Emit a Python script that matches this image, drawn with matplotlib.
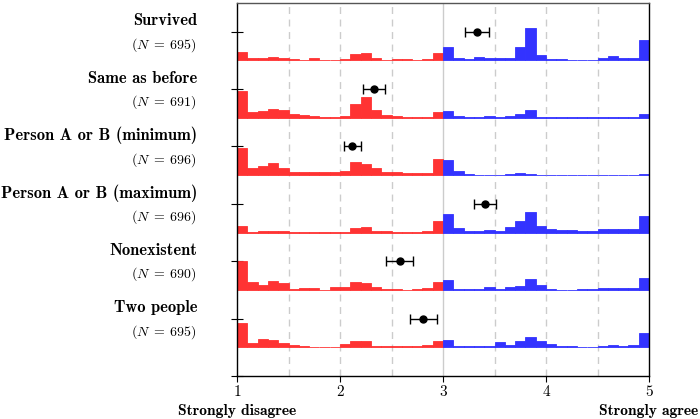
import numpy as np
import matplotlib
matplotlib.use("Agg")
import matplotlib.pyplot as plt
import matplotlib.transforms as mtransforms

plt.rcParams["mathtext.fontset"] = "cm"
plt.rcParams["font.family"] = "cmr10"
plt.rcParams["axes.formatter.use_mathtext"] = True

# Questions, top to bottom
labels = ["Survived", "Same as before", "Person A or B (minimum)",
          "Person A or B (maximum)", "Nonexistent", "Two people"]
n_resp = [695, 691, 696, 696, 690, 695]

# Mean rating and half-width of the interval
means = [3.33, 2.33, 2.12, 3.41, 2.58, 2.81]
errs = [0.115, 0.11, 0.085, 0.105, 0.13, 0.13]

# Histogram heights, 40 bins of width 0.1 from 1 to 5 (relative units)
hist_survived = [24, 8, 7, 10, 8, 4, 2, 6, 2, 1, 3, 19, 23, 6, 1, 4, 3, 1, 3, 23,
                 41, 7, 4, 9, 7, 8, 8, 40, 98, 16, 3, 5, 2, 1, 1, 8, 12, 6, 8, 60]
hist_same = [79, 17, 21, 26, 24, 10, 7, 5, 3, 2, 6, 42, 63, 23, 9, 4, 3, 2, 2, 16,
             21, 4, 2, 3, 4, 2, 4, 10, 23, 3, 2, 2, 2, 1, 2, 2, 3, 2, 2, 12]
hist_min = [82, 20, 26, 35, 22, 10, 8, 10, 10, 8, 13, 38, 32, 20, 9, 9, 5, 5, 6, 48,
            44, 12, 3, 2, 1, 2, 4, 5, 4, 1, 1, 1, 1, 0.5, 0.5, 1, 1, 1, 1, 3]
hist_max = [20, 3, 4, 4, 6, 3, 2, 2, 1, 2, 3, 14, 16, 5, 4, 3, 3, 3, 4, 34,
            55, 15, 5, 5, 8, 6, 17, 36, 61, 20, 12, 8, 7, 5, 6, 12, 12, 12, 10, 49]
hist_nonexistent = [87, 25, 16, 26, 20, 4, 5, 7, 1, 9, 9, 23, 20, 9, 4, 2, 1, 4, 6, 24,
                    30, 4, 3, 3, 9, 2, 8, 13, 32, 14, 3, 1, 1, 2, 2, 5, 5, 5, 6, 35]
hist_two = [74, 13, 24, 21, 14, 8, 3, 1, 1, 2, 9, 19, 19, 3, 3, 3, 5, 3, 6, 19,
            22, 5, 3, 3, 3, 15, 8, 20, 32, 19, 9, 3, 3, 2, 1, 3, 8, 4, 8, 42]
hists = [hist_survived, hist_same, hist_min, hist_max, hist_nonexistent, hist_two]

bin_edges = np.linspace(1, 5, 41)
scale = 1 / 172.0

fig = plt.figure(figsize=(7.0, 4.19), dpi=100)
ax = fig.add_axes([0.3386, 0.1026, 0.5886, 0.8902])

# vertical guides
for gx in [1.5, 2, 2.5, 3.5, 4, 4.5]:
    ax.axvline(gx, color="#cccccc", lw=1.0, ls=(0, (5, 4)), zorder=0)
ax.axvline(3, color="#cccccc", lw=1.0, zorder=0)

nrows = len(labels)
for i in range(nrows):
    yc = nrows - i
    base = yc - 0.5
    h = np.array(hists[i]) * scale
    left = bin_edges[:-1]
    cols = ["#ff3333" if x < 3 else "#3333ff" for x in left]
    ax.bar(left, h, width=0.1, bottom=base, align="edge", color=cols,
           edgecolor=cols, linewidth=0.6, zorder=2)
    ax.errorbar(means[i], yc, xerr=errs[i], fmt="o", color="black",
                markersize=5, capsize=3.5, elinewidth=1.0, capthick=1.0, zorder=4)

ax.set_xlim(1, 5)
ax.set_ylim(0, 6.5)
ax.set_xticks([1, 2, 3, 4, 5])
ax.set_xticklabels(["1", "2", "3", "4", "5"], fontsize=11)
ax.set_yticks(range(0, nrows + 1))
ax.set_yticklabels([])
ax.tick_params(axis="y", direction="inout", length=9, width=0.8)
ax.tick_params(axis="x", direction="out", length=4, width=0.8, pad=3)
for s in ax.spines.values():
    s.set_linewidth(1.0)
ax.spines["top"].set_color("#555555")

# row labels
trans = mtransforms.blended_transform_factory(ax.transAxes, ax.transData)
off = mtransforms.ScaledTranslation(-40 / 100, 0, fig.dpi_scale_trans)
for i in range(nrows):
    yc = nrows - i
    ax.text(0, yc + 0.19, labels[i], transform=trans + off, ha="right",
            va="center", fontsize=11.9, family="cmb10")
    ax.text(0, yc - 0.23, r"$(N\;=\;%d)$" % n_resp[i], transform=trans + off,
            ha="right", va="center", fontsize=10)

# end-point descriptions
tx = mtransforms.blended_transform_factory(ax.transData, ax.transAxes)
ax.text(1, -0.075, "Strongly disagree", transform=tx, ha="center", va="top",
        fontsize=11.2, family="cmb10")
ax.text(5, -0.075, "Strongly agree", transform=tx, ha="center", va="top",
        fontsize=11.2, family="cmb10")

fig.savefig("out.png", dpi=100)
